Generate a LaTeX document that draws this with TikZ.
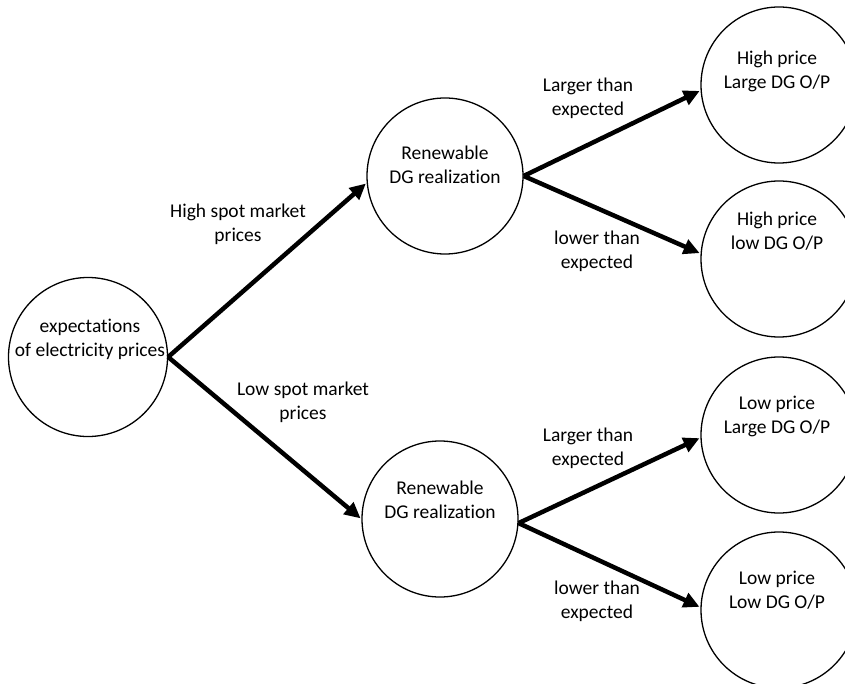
\documentclass[tikz,border=0pt]{standalone}
\usepackage{fontspec}
\setmainfont{Carlito}[Ligatures={NoCommon,NoRequired,NoContextual}]
\usetikzlibrary{arrows.meta}
\begin{document}
\begin{tikzpicture}[x=1pt,y=-1pt,
  state/.style={draw,circle,line width=1.3pt,minimum size=156pt,inner sep=0pt},
  txt/.style={align=center,inner sep=0pt,font=\fontsize{19.5}{24}\selectfont},
  conn/.style={line width=4.5pt,-{Triangle[length=16pt,width=15pt]},shorten >=1pt}]
\useasboundingbox (0,0) rectangle (845,684);
\clip (0,0) rectangle (845,684);
% circles
\node[state,minimum size=159pt] (root) at (88,357) {};
\node[state] (up) at (445,176) {};
\node[state] (lo) at (440,519) {};
\node[state] (r1) at (779,85) {};
\node[state] (r2) at (779,259) {};
\node[state] (r3) at (779,435) {};
\node[state] (r4) at (779,610) {};
% circle texts
\node[txt] (rootT) at (90,339) {expectations\\of electricity prices};
\node[txt] (upT) at (445,165) {Renewable\\DG realization};
\node[txt] (loT) at (440,500) {Renewable\\DG realization};
\node[txt] (r1T) at (777,71) {High price\\Large DG O/P};
\node[txt] (r2T) at (777,231) {High price\\low DG O/P};
\node[txt] (r3T) at (777,416) {Low price\\Large DG O/P};
\node[txt] (r4T) at (777,590) {Low price\\Low DG O/P};
% connectors
\draw[conn] (root.east) -- (up.185);
\draw[conn] (root.east) -- (lo.west);
\draw[conn] (up.east) -- (r1.184);
\draw[conn] (up.east) -- (r2.176);
\draw[conn] (lo.357) -- (r3.182);
\draw[conn] (lo.357) -- (r4.178);
% connector labels
\node[txt] (l1) at (238,224) {High spot market\\prices};
\node[txt] (l2) at (303,402) {Low spot market\\prices};
\node[txt] (l3) at (588,98) {Larger than\\expected};
\node[txt] (l4) at (597,251) {lower than\\expected};
\node[txt] (l5) at (588,448) {Larger than\\expected};
\node[txt] (l6) at (597,601) {lower than\\expected};
\end{tikzpicture}
\end{document}
